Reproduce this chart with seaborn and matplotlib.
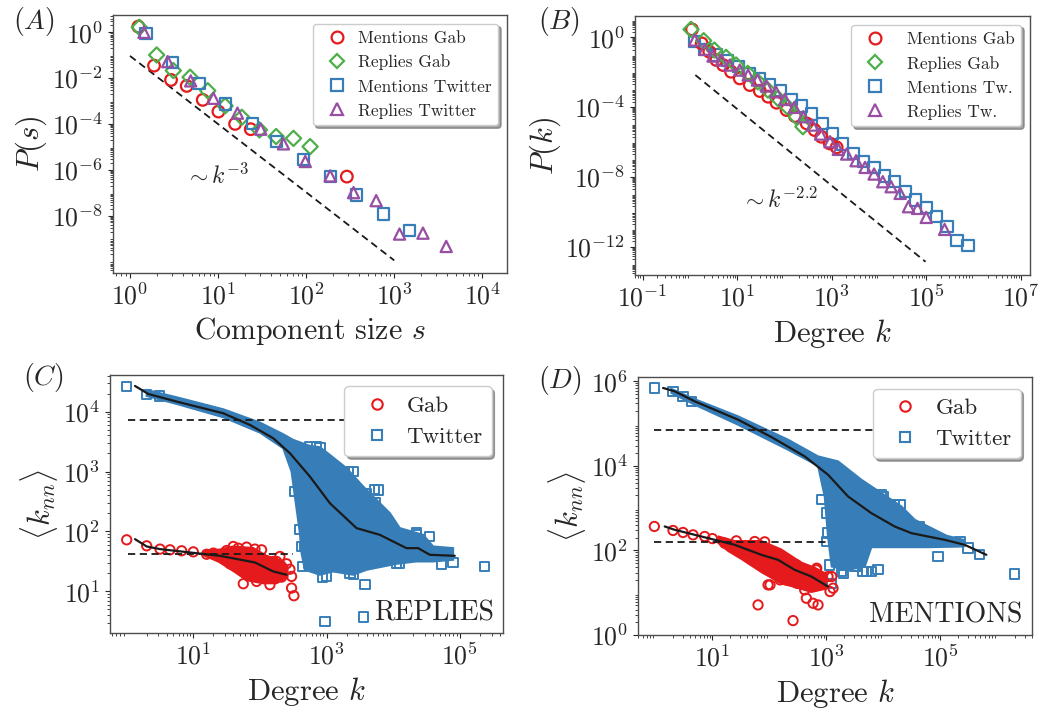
import numpy as np
import pandas as pd
import matplotlib
matplotlib.use("Agg")
import matplotlib.pyplot as plt
import seaborn as sns
from matplotlib.lines import Line2D
from matplotlib.ticker import LogLocator, NullFormatter

# (A) component size distribution
a_mg_x = [0.095, 0.273, 0.466, 0.644, 0.826, 1.004, 1.193, 1.371, 2.462]
a_mg_y = [0.25, -1.455, -2.08, -2.34, -2.95, -3.46, -4.0, -4.23, -6.30]
a_rg_x = [0.106, 0.303, 0.492, 0.682, 0.883, 1.08, 1.269, 1.47, 1.659, 1.856, 2.045]
a_rg_y = [0.22, -0.99, -1.67, -1.96, -2.55, -3.21, -3.71, -4.26, -4.55, -4.63, -4.99]
a_mt_x = [0.182, 0.485, 0.784, 1.087, 1.39, 1.659, 1.97, 2.273, 2.568, 2.879, 3.174]
a_mt_y = [-0.04, -1.32, -2.23, -3.13, -3.97, -4.77, -5.57, -6.30, -7.10, -7.93, -8.65]
a_rt_x = [0.159, 0.428, 0.689, 0.947, 1.22, 1.485, 1.742, 1.99, 2.273, 2.538, 2.795,
          3.06, 3.326, 3.59]
a_rt_y = [0.0, -1.28, -2.12, -2.88, -3.53, -4.23, -4.87, -5.64, -6.27, -7.0, -7.35,
          -8.81, -8.77, -9.35]
a_guide_x = [0.0, 3.0]
a_guide_y = [-1.03, -9.96]

# (B) degree distribution
b_mg_x = [0.045, 0.250, 0.412, 0.561, 0.702, 0.871, 1.055, 1.267, 1.479, 1.655, 1.832,
          2.044, 2.220, 2.468, 2.637, 2.778, 2.955, 3.103]
b_mg_y = [0.459, -0.344, -0.822, -1.300, -1.587, -1.969, -2.352, -2.734, -3.078, -3.403,
          -3.748, -4.168, -4.512, -4.933, -5.315, -5.698, -6.080, -6.310]
b_rg_x = [0.024, 0.292, 0.518, 0.766, 0.977, 1.225, 1.436, 1.648, 1.860, 2.058, 2.249, 2.390]
b_rg_y = [0.459, -0.191, -0.727, -1.147, -1.587, -2.065, -2.543, -3.021, -3.499, -3.977,
          -4.551, -5.124]
b_mt_x = [0.095, 0.321, 0.554, 0.801, 1.027, 1.260, 1.479, 1.691, 1.917, 2.143, 2.362,
          2.573, 2.807, 3.011, 3.223, 3.456, 3.668, 3.894, 4.113, 4.325, 4.551, 4.763,
          4.996, 5.208, 5.434, 5.645, 5.879]
b_mt_y = [-0.249, -0.688, -1.013, -1.338, -1.683, -2.065, -2.390, -2.734, -3.059, -3.556,
          -3.939, -4.398, -4.933, -5.507, -6.119, -6.654, -7.132, -7.457, -7.954, -8.279,
          -8.853, -9.331, -9.751, -10.29, -10.86, -11.66, -11.95]
b_rt_x = [0.102, 0.314, 0.490, 0.667, 0.843, 1.055, 1.232, 1.429, 1.620, 1.818, 2.008,
          2.206, 2.397, 2.588, 2.764, 2.962, 3.138, 3.315, 3.513, 3.703, 3.894, 4.078,
          4.254, 4.445, 4.621, 4.812, 4.996, 5.384]
b_rt_y = [-0.153, -0.688, -1.071, -1.300, -1.587, -1.874, -2.161, -2.447, -2.792, -3.117,
          -3.556, -4.015, -4.551, -5.029, -5.545, -5.985, -6.424, -6.692, -7.075, -7.457,
          -7.839, -8.279, -8.566, -8.948, -9.713, -9.809, -10.325, -11.013]
b_guide_x = [0.116, 4.982]
b_guide_y = [-2.161, -12.87]

# (C) replies <knn>
c_tw_line_x = [0.125, 0.325, 0.75, 1.45, 1.85, 2.2, 2.45, 2.75, 3.05, 3.45, 3.8, 4.2,
               4.375, 4.55, 4.925]
c_tw_line_y = [4.428, 4.294, 4.167, 3.972, 3.778, 3.556, 3.306, 2.917, 2.472, 2.056,
               1.944, 1.722, 1.722, 1.611, 1.594]
c_tw_cloud_x = [0.30, 0.75, 1.45, 2.0, 2.35, 2.50, 2.75, 2.90, 3.05, 3.30, 3.55, 3.75,
                3.95, 4.10, 4.45, 4.60, 4.90,
                4.90, 4.60, 4.35, 4.05, 3.60, 3.40, 3.10, 2.90, 2.675, 2.625, 2.60, 2.525,
                2.475, 2.35, 2.0, 1.45, 0.75, 0.30]
c_tw_cloud_y = [4.361, 4.239, 4.039, 3.817, 3.622, 3.528, 3.428, 3.406, 3.278, 3.056,
                2.75, 2.528, 2.306, 2.056, 1.944, 1.75, 1.722,
                1.528, 1.50, 1.50, 1.461, 1.361, 1.278, 1.333, 1.278, 1.361, 1.639, 1.972,
                2.583, 3.0, 3.389, 3.65, 3.906, 4.128, 4.261]
c_tw_pts_x = [0.0, 0.30, 0.49, 2.75, 2.90, 3.325, 3.725, 3.74, 2.60, 2.625, 2.64, 2.94,
              3.40, 3.575, 2.975, 3.55, 4.05, 4.35, 4.725, 4.90, 5.375, 3.80,
              2.525, 2.675, 2.725, 2.825, 3.0, 3.35, 3.775, 3.60, 3.40, 3.05, 2.85, 4.35,
              4.55, 4.10]
c_tw_pts_y = [4.417, 4.289, 4.261, 3.417, 3.406, 3.0, 2.706, 2.483, 2.028, 1.75, 1.417,
              1.239, 1.278, 1.111, 0.5, 0.572, 1.472, 1.944, 1.444, 1.483, 1.417, 2.278,
              2.667, 1.75, 1.472, 1.417, 1.25, 1.306, 2.694, 2.639, 3.0, 3.111, 3.417, 1.972,
              1.917, 1.472]
c_gab_line_x = [0.125, 0.30, 0.50, 0.90, 1.40, 1.925, 2.20, 2.40]
c_gab_line_y = [1.872, 1.75, 1.706, 1.656, 1.594, 1.483, 1.333, 1.278]
c_gab_cloud_x = [1.15, 1.40, 1.60, 1.90, 2.10, 2.35, 2.42, 2.42, 2.25, 2.05, 1.80, 1.62,
                 1.38, 1.15]
c_gab_cloud_y = [1.680, 1.705, 1.755, 1.73, 1.600, 1.510, 1.420, 1.24, 1.13, 1.13,
                 1.18, 1.32, 1.49, 1.60]
c_gab_pts_x = [0.0, 0.30, 0.50, 0.65, 0.825, 1.675, 1.925, 1.75, 1.95, 2.15, 2.40, 2.475,
               2.475, 2.51, 2.325, 2.20, 1.0, 1.3, 1.5, 1.6, 1.8, 1.7, 1.55, 1.9, 2.1, 2.3,
               2.025, 2.25, 1.2, 2.45]
c_gab_pts_y = [1.861, 1.761, 1.706, 1.694, 1.678, 1.722, 1.706, 1.128, 1.167, 1.111,
               1.461, 1.25, 1.056, 0.928, 1.239, 1.5, 1.66, 1.639, 1.683, 1.75, 1.739,
               1.528, 1.461, 1.306, 1.361, 1.583, 1.694, 1.5, 1.62, 1.37]
c_mean_tw, c_mean_gab = 3.861, 1.622

# (D) mentions <knn>
d_tw_line_x = [0.135, 0.339, 0.690, 1.450, 2.035, 2.620, 3.029, 3.380, 3.789, 4.199,
               4.491, 5.076, 5.427, 5.807]
d_tw_line_y = [5.842, 5.763, 5.526, 5.092, 4.682, 4.224, 3.790, 3.277, 2.882, 2.566,
               2.409, 2.251, 2.133, 1.896]
d_tw_cloud_x = [0.281, 0.690, 1.450, 2.327, 2.854, 3.205, 3.614, 3.965, 4.316, 4.550,
                5.111, 5.404,
                5.404, 4.784, 4.199, 3.789, 3.673, 3.380, 3.094, 3.029, 2.971, 2.854,
                2.327, 1.450, 0.690, 0.281]
d_tw_cloud_y = [5.818, 5.576, 5.171, 4.619, 4.224, 4.106, 3.672, 3.356, 3.040, 2.725,
                2.346, 2.251,
                2.093, 2.077, 2.077, 2.077, 1.620, 1.541, 1.620, 2.330, 3.277, 4.003,
                4.382, 4.974, 5.447, 5.724]
d_tw_pts_x = [-0.018, 0.310, 0.485, 0.632, 2.912, 3.0, 3.018, 3.0, 3.058, 3.088, 3.263,
              3.643, 3.789, 3.906, 3.994, 4.199, 4.637, 4.959, 5.485, 5.690, 6.304, 3.497,
              3.327, 3.532, 3.708, 3.298, 3.971, 4.292, 5.345]
d_tw_pts_y = [5.842, 5.763, 5.645, 5.526, 3.198, 2.882, 2.409, 2.211, 1.659, 1.225, 1.501,
              1.501, 1.501, 1.556, 3.277, 3.080, 2.567, 1.856, 2.054, 1.896, 1.446, 1.620,
              1.659, 1.620, 1.501, 1.462, 3.316, 3.080, 2.211]
d_gab_line_x = [0.164, 0.339, 0.807, 1.392, 1.860, 2.152, 2.444, 2.737, 3.029]
d_gab_line_y = [2.567, 2.488, 2.330, 2.133, 1.896, 1.778, 1.541, 1.383, 1.146]
d_gab_cloud_x = [1.10, 1.392, 1.860, 2.211, 2.561, 2.795, 3.0, 3.0, 2.737, 2.444,
                 2.211, 1.860, 1.509, 1.275, 1.10]
d_gab_cloud_y = [2.34, 2.23, 2.23, 2.03, 1.72, 1.60, 1.45, 1.09, 1.01, 1.13,
                 1.21, 1.48, 1.79, 1.98, 2.17]
d_gab_pts_x = [-0.018, 0.310, 0.485, 0.661, 1.421, 1.918, 1.977, 1.801, 2.298, 2.620,
               2.649, 2.766, 2.854, 2.415, 3.117, 3.029, 2.825, 1.743, 1.450, 1.216,
               0.865, 2.012, 2.187, 2.480, 3.064, 3.094, 2.830, 2.480, 2.211, 1.860, 1.0]
d_gab_pts_y = [2.567, 2.472, 2.425, 2.369, 2.227, 2.204, 1.186, 0.712, 1.304, 1.067,
               0.870, 0.751, 0.712, 0.341, 1.107, 1.383, 1.541, 2.211, 2.093, 2.172,
               2.330, 1.186, 1.304, 1.225, 1.028, 1.383, 1.580, 1.659, 1.856, 1.935, 2.28]
d_mean_tw, d_mean_gab = 4.856, 2.211

RED, GREEN, BLUE, PURPLE = "#e41a1c", "#4daf4a", "#377eb8", "#984ea3"

sns.set_theme(style="ticks")
plt.rcParams.update({
    "font.family": "serif",
    "font.serif": ["cmr10", "DejaVu Serif"],
    "mathtext.fontset": "cm",
    "axes.formatter.use_mathtext": True,
    "axes.unicode_minus": False,
    "axes.edgecolor": "0.3",
    "axes.linewidth": 1.0,
    "xtick.major.size": 3.5, "ytick.major.size": 3.5,
    "xtick.minor.size": 2.0, "ytick.minor.size": 2.0,
    "xtick.major.width": 0.8, "ytick.major.width": 0.8,
    "xtick.minor.width": 0.6, "ytick.minor.width": 0.6,
    "xtick.color": "0.15", "ytick.color": "0.15",
    "xtick.labelsize": 18.5, "ytick.labelsize": 18.5,
})


def lg(v):
    return 10.0 ** np.asarray(v)


def hollow(ax, x, y, marker, color, s=70, lw=1.6, z=3):
    df = pd.DataFrame({"x": lg(x), "y": lg(y)})
    sns.scatterplot(data=df, x="x", y="y", ax=ax, marker=marker, s=s, color=color,
                    facecolor="none", edgecolor=color, linewidth=lw, legend=False,
                    zorder=z)


def setup(ax, xlim, ylim, xt, yt):
    ax.set_xscale("log")
    ax.set_yscale("log")
    ax.set_xticks(lg(xt))
    ax.set_yticks(lg(yt))
    for axis in (ax.xaxis, ax.yaxis):
        axis.set_minor_locator(LogLocator(base=10, subs=np.arange(2, 10), numticks=200))
        axis.set_minor_formatter(NullFormatter())
    ax.set_xlim(lg(xlim))
    ax.set_ylim(lg(ylim))


def handle(marker, color, ms=8.5, mew=1.6):
    return Line2D([], [], ls="none", marker=marker, mfc="none", mec=color, ms=ms, mew=mew)


fig = plt.figure(figsize=(10.56, 7.16), dpi=100)
axA = fig.add_axes([0.1070, 0.6187, 0.3731, 0.3603])
axB = fig.add_axes([0.6013, 0.6159, 0.3741, 0.3617])
axC = fig.add_axes([0.1042, 0.1159, 0.3722, 0.3603])
axD = fig.add_axes([0.6042, 0.1131, 0.3731, 0.3603])

# ---- A
setup(axA, [-0.193, 4.28], [-10.51, 0.755], [0, 1, 2, 3, 4], [0, -2, -4, -6, -8])
axA.plot(lg(a_guide_x), lg(a_guide_y), "k--", lw=1.3, dashes=(4, 2.5))
hollow(axA, a_mg_x, a_mg_y, "o", RED)
hollow(axA, a_rg_x, a_rg_y, "D", GREEN, s=60)
hollow(axA, a_mt_x, a_mt_y, "s", BLUE, s=65)
hollow(axA, a_rt_x, a_rt_y, "^", PURPLE, s=65)
axA.text(lg(0.625), lg(-6.3), r"$\sim k^{-3}$", fontsize=17, ha="left", va="center")
axA.set_xlabel(r"Component size $s$", fontsize=21.5)
axA.set_ylabel(r"$P(s)$", fontsize=22, labelpad=2)
axA.legend([handle("o", RED), handle("D", GREEN, ms=7.5), handle("s", BLUE), handle("^", PURPLE)],
           ["Mentions Gab", "Replies Gab", "Mentions Twitter", "Replies Twitter"],
           loc="upper right", fontsize=12.5, shadow=True, fancybox=True, handletextpad=0.2,
           framealpha=1)

# ---- B
setup(axB, [-1.16, 7.19], [-13.63, 1.224], [-1, 1, 3, 5, 7], [0, -4, -8, -12])
axB.plot(lg(b_guide_x), lg(b_guide_y), "k--", lw=1.3, dashes=(4, 2.5))
hollow(axB, b_mt_x, b_mt_y, "s", BLUE, s=65)
hollow(axB, b_mg_x, b_mg_y, "o", RED)
hollow(axB, b_rg_x, b_rg_y, "D", GREEN, s=60)
hollow(axB, b_rt_x, b_rt_y, "^", PURPLE, s=65)
axB.text(lg(1.083), lg(-9.33), r"$\sim k^{-2.2}$", fontsize=17, ha="left", va="center")
axB.set_xlabel(r"Degree $k$", fontsize=22)
axB.set_ylabel(r"$P(k)$", fontsize=22, labelpad=2)
axB.legend([handle("o", RED), handle("D", GREEN, ms=7.5), handle("s", BLUE), handle("^", PURPLE)],
           ["Mentions Gab", "Replies Gab", "Mentions Tw.", "Replies Tw."],
           loc="upper right", fontsize=12.5, shadow=True, fancybox=True, framealpha=1)


# ---- C and D
def knn_panel(ax, xlim, ylim, yt, tw, gab, means, mean_ends, word):
    setup(ax, xlim, ylim, [1, 3, 5], yt)
    (cx, cy, px, py, lx, ly) = tw
    ax.fill(lg(cx), lg(cy), color=BLUE, ec=BLUE, lw=1.5, zorder=2)
    hollow(ax, px, py, "s", BLUE, s=45, lw=1.4, z=2)
    (gcx, gcy, gpx, gpy, glx, gly) = gab
    ax.fill(lg(gcx), lg(gcy), color=RED, ec=RED, lw=1.0, zorder=3)
    hollow(ax, gpx, gpy, "o", RED, s=45, lw=1.4, z=3)
    ax.plot(lg(mean_ends[0]), lg([means[0]] * 2), "k--", lw=1.3, dashes=(4, 2.5), zorder=4)
    ax.plot(lg(mean_ends[1]), lg([means[1]] * 2), "k--", lw=1.3, dashes=(4, 2.5), zorder=4)
    sns.lineplot(x=lg(lx), y=lg(ly), ax=ax, color="k", lw=1.6, sort=False,
                 estimator=None, zorder=5)
    sns.lineplot(x=lg(glx), y=lg(gly), ax=ax, color="k", lw=1.6, sort=False,
                 estimator=None, zorder=5)
    ax.text(0.976, 0.048, word, transform=ax.transAxes, ha="right", va="baseline",
            fontsize=20)
    ax.set_xlabel(r"Degree $k$", fontsize=22)
    ax.set_ylabel(r"$\langle k_{nn}\rangle$", fontsize=22, labelpad=2)
    leg = ax.legend([handle("o", RED, ms=7.5, mew=1.5), handle("s", BLUE, ms=7.5, mew=1.5)],
                    ["Gab", "Twitter"], loc="upper right", fontsize=16.5, shadow=True,
                    fancybox=True, handletextpad=0.3, framealpha=1)
    leg.set_zorder(10)


knn_panel(axC, [-0.25, 5.65], [0.306, 4.61], [1, 2, 3, 4],
          (c_tw_cloud_x, c_tw_cloud_y, c_tw_pts_x, c_tw_pts_y, c_tw_line_x, c_tw_line_y),
          (c_gab_cloud_x, c_gab_cloud_y, c_gab_pts_x, c_gab_pts_y, c_gab_line_x, c_gab_line_y),
          (c_mean_tw, c_mean_gab), ([0.025, 4.0], [0.025, 2.5]), "REPLIES")
knn_panel(axD, [-0.304, 6.608], [0.0, 6.10], [0, 2, 4, 6],
          (d_tw_cloud_x, d_tw_cloud_y, d_tw_pts_x, d_tw_pts_y, d_tw_line_x, d_tw_line_y),
          (d_gab_cloud_x, d_gab_cloud_y, d_gab_pts_x, d_gab_pts_y, d_gab_line_x, d_gab_line_y),
          (d_mean_tw, d_mean_gab), ([-0.018, 4.5], [-0.018, 3.06]), "MENTIONS")

for lab, (px, py) in zip(["A", "B", "C", "D"], [(13, 22), (538, 22), (23, 377), (538, 380)]):
    fig.text(px / 1056, 1 - py / 716, r"$(%s)$" % lab, fontsize=20, ha="left", va="center")

fig.savefig("out.png", dpi=100)
